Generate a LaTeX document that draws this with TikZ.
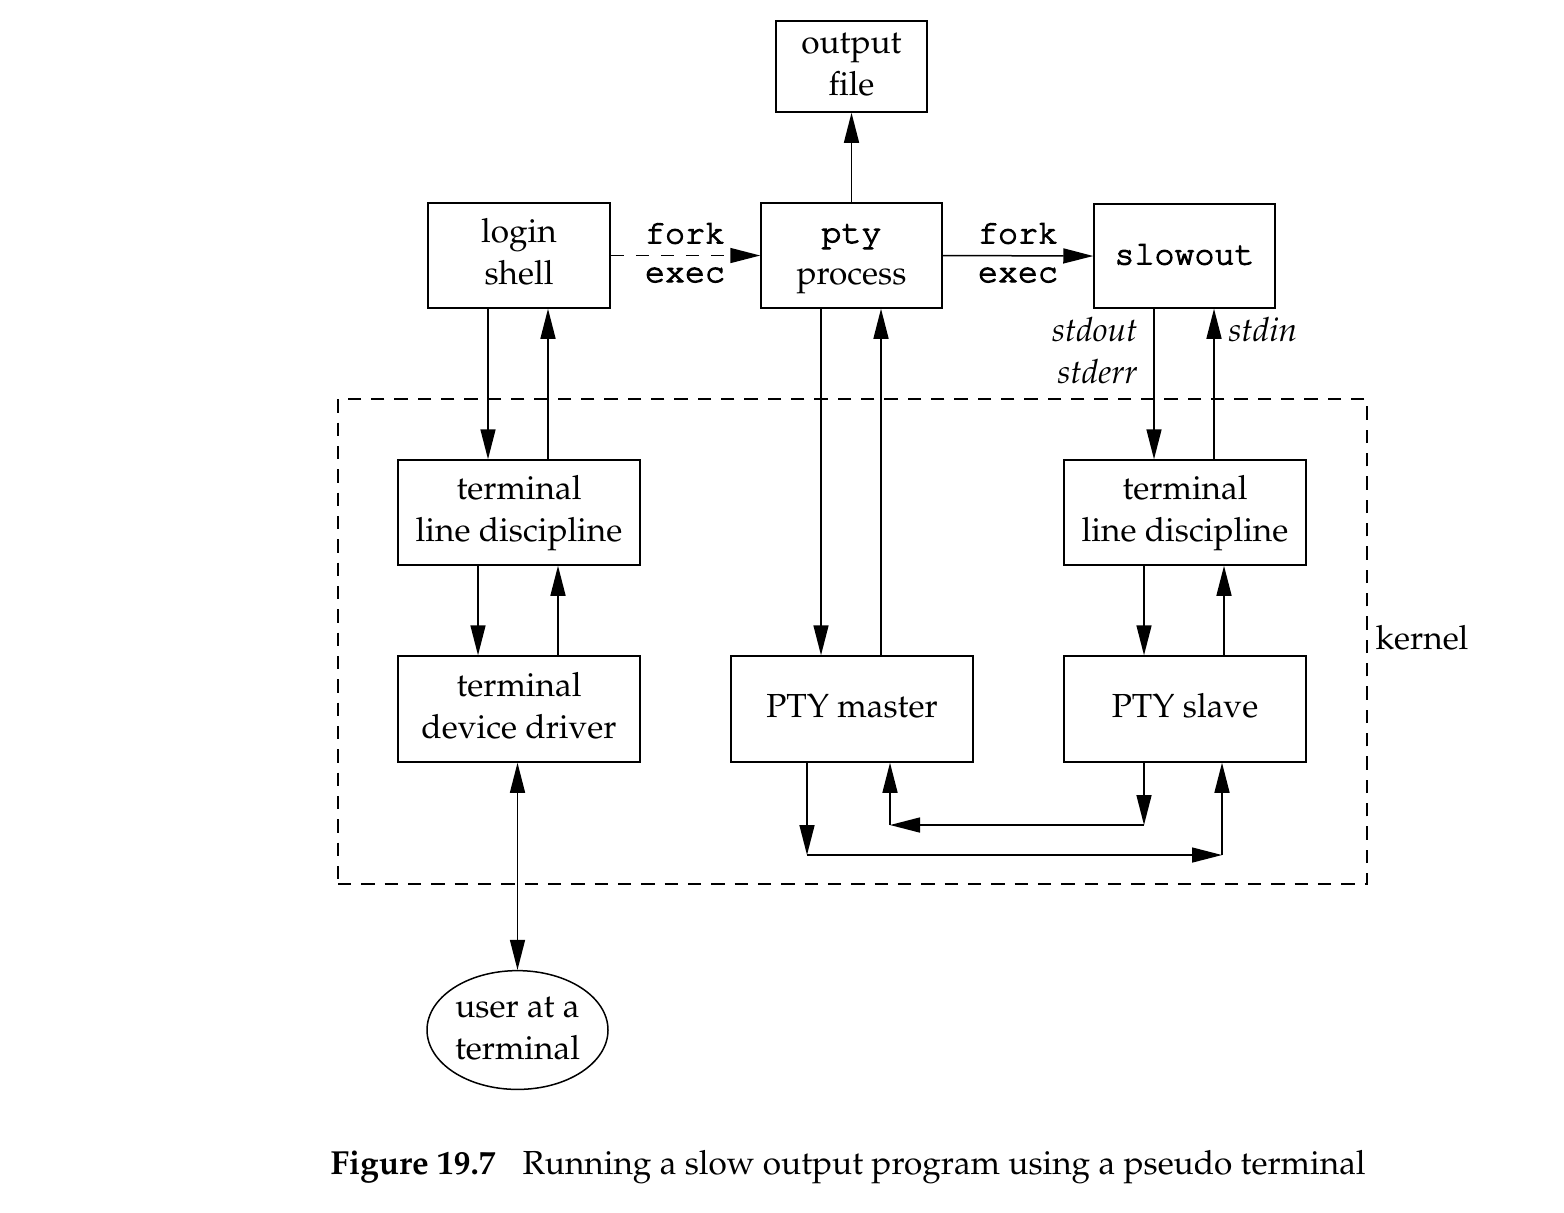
\documentclass[tikz,border=0pt]{standalone}
\usepackage[T1]{fontenc}
\usepackage{mathpazo}
\usepackage{courier}
\usetikzlibrary{arrows.meta,calc,shapes.geometric}
\newcommand\semib[1]{\special{pdf:literal direct 2 Tr 0.32 w}#1\special{pdf:literal direct 0 Tr 0.45 w}}
\newcommand\twol[2]{\begin{tabular}{@{}c@{}}#1\\#2\end{tabular}}
\begin{document}
\begin{tikzpicture}[x=0.3pt,y=-0.3pt,
  txt/.style={font=\fontsize{10}{12.6}\selectfont},
  box/.style={draw, line width=0.45pt, inner sep=0pt, align=center, txt},
  arr/.style={-{Triangle[length=9pt,width=4.5pt]}, line width=0.45pt},
  dbl/.style={{Triangle[length=9pt,width=4.5pt]}-{Triangle[length=9pt,width=4.5pt]}, line width=0.45pt},
  kdash/.style={dash pattern=on 4pt off 3pt},
  tt/.style={font=\fontsize{10}{12.6}\selectfont\ttfamily}]
\useasboundingbox (0,0) rectangle (1564,1212);
% kernel box
\node[draw, kdash, line width=0.45pt, minimum width=308.7pt, minimum height=145.5pt, inner sep=0pt] (kernel) at (852.5,641.5) {};
\node[txt, anchor=west, inner sep=0pt] (klabel) at (1375,638) {kernel};
% boxes
\node[box, minimum width=45.3pt, minimum height=27.3pt] (outfile) at (851.5,66.5) {\twol{output}{file}};
\node[box, minimum width=54.6pt, minimum height=31.5pt] (login) at (519,255.5) {\twol{login}{shell}};
\node[box, minimum width=54.3pt, minimum height=31.5pt] (pty) at (851.5,255.5) {\twol{\ttfamily\semib{pty}}{process}};
\node[box, minimum width=54.3pt, minimum height=31.2pt] (slow) at (1184.5,256) {\strut\ttfamily\semib{slowout}};
\node[box, minimum width=72.6pt, minimum height=31.5pt] (tld1) at (519,512.5) {\twol{terminal}{line discipline}};
\node[box, minimum width=72.6pt, minimum height=31.8pt] (tdd) at (519,709) {\twol{terminal}{device driver}};
\node[box, minimum width=72.6pt, minimum height=31.8pt] (master) at (852,709) {\strut PTY master};
\node[box, minimum width=72.6pt, minimum height=31.5pt] (tld2) at (1185,512.5) {\twol{terminal}{line discipline}};
\node[box, minimum width=72.6pt, minimum height=31.8pt] (slave) at (1185,709) {\strut PTY slave};
\node[box, ellipse, minimum width=54.3pt, minimum height=31.5pt] (user) at (517.5,1030) {\twol{user at a}{terminal}};
% labels
\node[tt, inner sep=0pt] (f1) at (685,233) {\semib{fork}};
\node[tt, inner sep=0pt] (e1) at (685,275) {\semib{exec}};
\node[tt, inner sep=0pt] (f2) at (1018,233) {\semib{fork}};
\node[tt, inner sep=0pt] (e2) at (1018,275) {\semib{exec}};
\node[txt, font=\fontsize{10}{12.6}\selectfont\itshape, anchor=east, inner sep=0pt] (so) at (1138,330) {stdout};
\node[txt, font=\fontsize{10}{12.6}\selectfont\itshape, anchor=east, inner sep=0pt] (se) at (1138,372) {stderr};
\node[txt, font=\fontsize{10}{12.6}\selectfont\itshape, anchor=west, inner sep=0pt] (si) at (1228,330) {stdin};
% caption
\node[txt, font=\fontsize{10}{12.6}\selectfont\bfseries, anchor=base west, inner sep=0pt] (figno) at (330,1174) {Figure 19.7};
\node[txt, anchor=base west, inner sep=0pt] (cap) at (522,1174) {Running a slow output program using a pseudo terminal};
% connectors
\draw[arr] (pty.north) -- (outfile.south);
\draw[arr, dash pattern=on 4pt off 3.5pt] (login.east) -- (pty.west);
\draw[arr] (pty.east) -- (slow.west);
\draw[arr] ($(login.south)+(-31,0)$) coordinate (a1) -- (a1 |- tld1.north);
\draw[arr] ($(tld1.north)+(29,0)$) coordinate (a2) -- (a2 |- login.south);
\draw[arr] ($(tld1.south)+(-41,0)$) coordinate (a3) -- (a3 |- tdd.north);
\draw[arr] ($(tdd.north)+(39,0)$) coordinate (a4) -- (a4 |- tld1.south);
\draw[dbl] (user.north) -- (user.north |- tdd.south);
\draw[arr] ($(pty.south)+(-30.5,0)$) coordinate (b1) -- (b1 |- master.north);
\draw[arr] ($(master.north)+(29,0)$) coordinate (b2) -- (b2 |- pty.south);
\draw[arr] ($(slow.south)+(-30.5,0)$) coordinate (c1) -- (c1 |- tld2.north);
\draw[arr] ($(tld2.north)+(29,0)$) coordinate (c2) -- (c2 |- slow.south);
\draw[arr] ($(tld2.south)+(-41,0)$) coordinate (c3) -- (c3 |- slave.north);
\draw[arr] ($(slave.north)+(39,0)$) coordinate (c4) -- (c4 |- tld2.south);
% bottom loops
\coordinate (m1) at ($(master.south)+(-45,0)$);
\coordinate (m2) at (m1 |- 0,855);
\coordinate (s1) at ($(slave.south)+(37,0)$);
\coordinate (m3) at (s1 |- 0,855);
\draw[arr] (m1) -- (m2);
\draw[arr] (m2) -- (m3);
\draw[arr] (m3) -- (s1);
\coordinate (s2) at ($(slave.south)+(-41,0)$);
\coordinate (s3) at (s2 |- 0,825);
\coordinate (m4) at ($(master.south)+(38,0)$);
\coordinate (m5) at (m4 |- 0,825);
\draw[arr] (s2) -- (s3);
\draw[arr] (s3) -- (m5);
\draw[arr] (m5) -- (m4);
\end{tikzpicture}
\end{document}
